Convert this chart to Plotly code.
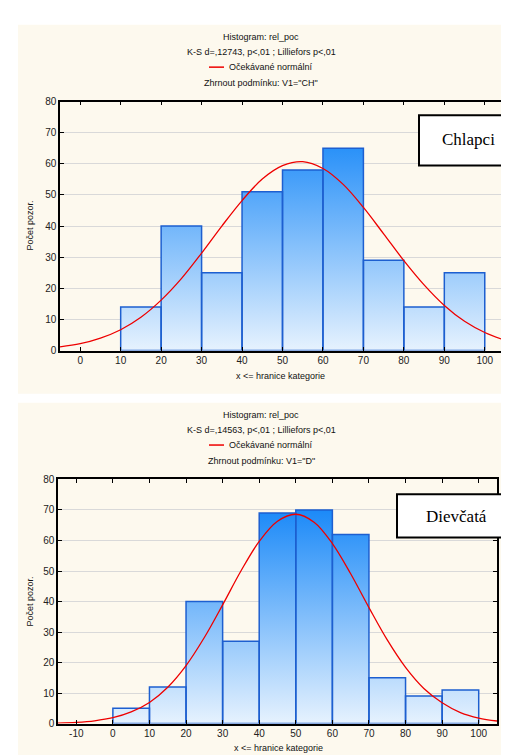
import plotly.graph_objects as go

# ---------------- data ----------------
edges_ch = [10, 20, 30, 40, 50, 60, 70, 80, 90, 100]
counts_ch = [14, 40, 25, 51, 58, 65, 29, 14, 25]

edges_d = [0, 10, 20, 30, 40, 50, 60, 70, 80, 90, 100]
counts_d = [5, 12, 40, 27, 69, 70, 62, 15, 9, 11]

# expected normal curve
curve_x_ch = [-5, 0, 5, 10, 15, 20, 25, 30, 35, 40, 45, 50, 55, 60, 65, 70, 75, 80, 85, 90, 95, 100, 105]
curve_y_ch = [1.2, 2.2, 4.0, 6.7, 10.7, 16.2, 23.1, 31.3, 40.0, 48.2, 55.1, 59.4, 60.7, 58.5, 53.4, 46.0,
              37.5, 28.9, 21.1, 14.5, 9.4, 5.8, 3.3]

curve_x_d = [-15, -10, -5, 0, 5, 10, 15, 20, 25, 30, 35, 40, 45, 50, 55, 60, 65, 70, 75, 80, 85, 90, 95, 100, 105]
curve_y_d = [0.16, 0.4, 0.9, 1.9, 3.8, 6.9, 11.9, 19.0, 28.2, 38.9, 50.0, 59.7, 66.3, 68.6, 66.0, 59.0,
             49.1, 38.0, 27.4, 18.4, 11.5, 6.8, 3.6, 1.8, 0.84]

xticks_ch = [0, 10, 20, 30, 40, 50, 60, 70, 80, 90, 100]
xticks_d = [-10, 0, 10, 20, 30, 40, 50, 60, 70, 80, 90, 100]
xticklabels_d = ["-10", "0", "10", "20", "30", "40", "50", "60", "70", "80", "90", "100"]
yticks = [0, 10, 20, 30, 40, 50, 60, 70, 80]

titles_ch = ["Histogram: rel_poc", "K-S d=,12743, p<,01 ; Lilliefors p<,01", "Zhrnout podmínku: V1=\"CH\""]
titles_d = ["Histogram: rel_poc", "K-S d=,14563, p<,01 ; Lilliefors p<,01", "Zhrnout podmínku: V1=\"D\""]
legend_text = "Očekávané normální"
ylabel = "Počet pozor."
xlabel = "x <= hranice kategorie"
label_ch = "Chlapci"
label_d = "Dievčatá"

# ---------------- layout helpers ----------------
W, H = 509, 755
def px(x):
    return x / W
def py(y):
    return 1 - y / H

SANS = "Liberation Sans, Arial, sans-serif"
SERIF = "Liberation Serif, Times New Roman, serif"
CREAM = "#fdf9ee"
EDGE = "#1d5fd0"
GRAD = [[0, "#eaf4fe"], [1, "#1c8af8"]]

def bar_polygons(edges, counts):
    xs, ys = [], []
    for lo, hi, c in zip(edges[:-1], edges[1:], counts):
        xs += [lo, lo, hi, hi, lo, None]
        ys += [0, c, c, 0, 0, None]
    return xs, ys

fig = go.Figure()

for edges, counts, cx, cy, ax in [
    (edges_ch, counts_ch, curve_x_ch, curve_y_ch, ""),
    (edges_d, counts_d, curve_x_d, curve_y_d, "2"),
]:
    bx, by = bar_polygons(edges, counts)
    fig.add_trace(go.Scatter(
        x=bx, y=by, mode="lines", fill="toself",
        fillgradient=dict(type="vertical", colorscale=GRAD, start=0, stop=70),
        line=dict(color=EDGE, width=1.5),
        xaxis="x" + ax, yaxis="y" + ax, showlegend=False, hoverinfo="skip",
    ))
    fig.add_trace(go.Scatter(
        x=cx, y=cy, mode="lines", line=dict(color="#ee0000", width=1.3, shape="spline"),
        xaxis="x" + ax, yaxis="y" + ax, showlegend=False,
    ))

axis_common = dict(
    showline=True, linecolor="black", linewidth=1.5, mirror="ticks",
    ticks="inside", ticklen=4, tickcolor="black", tickwidth=1,
    tickfont=dict(family=SANS, size=10, color="#222"), zeroline=False,
)

fig.update_layout(
    width=W, height=H, margin=dict(l=0, r=0, t=0, b=0),
    paper_bgcolor="white", plot_bgcolor="white",
    xaxis=dict(domain=[px(52), px(497)], range=[-5, 105], tickvals=xticks_ch,
               showgrid=False, anchor="y", **axis_common),
    yaxis=dict(domain=[py(342), py(89)], range=[0, 80], tickvals=yticks,
               showgrid=True, gridcolor="#d9d9d9", gridwidth=1, anchor="x", **axis_common),
    xaxis2=dict(domain=[px(50), px(489)], range=[-15, 105], tickvals=xticks_d, ticktext=xticklabels_d,
                showgrid=False, anchor="y2", **axis_common),
    yaxis2=dict(domain=[py(721), py(473)], range=[0, 80], tickvals=yticks,
                showgrid=True, gridcolor="#d9d9d9", gridwidth=1, anchor="x2", **axis_common),
)

shapes = [
    dict(type="rect", xref="paper", yref="paper", x0=px(10), x1=px(509), y0=py(386), y1=py(11),
         fillcolor=CREAM, line=dict(width=0), layer="below"),
    dict(type="rect", xref="paper", yref="paper", x0=px(10), x1=px(499), y0=py(755), y1=py(395),
         fillcolor=CREAM, line=dict(width=0), layer="below"),
    dict(type="rect", xref="paper", yref="paper", x0=px(411), x1=px(508), y0=py(154), y1=py(103),
         fillcolor="white", line=dict(color="black", width=2), layer="above"),
    dict(type="rect", xref="paper", yref="paper", x0=px(389), x1=px(508), y0=py(532), y1=py(488),
         fillcolor="white", line=dict(color="black", width=2), layer="above"),
    dict(type="line", xref="paper", yref="paper", x0=px(201), x1=px(216), y0=py(54), y1=py(54),
         line=dict(color="#ee0000", width=1.5)),
    dict(type="line", xref="paper", yref="paper", x0=px(201), x1=px(216), y0=py(438), y1=py(438),
         line=dict(color="#ee0000", width=1.5)),
]

annotations = []
def txt(x, y, s, size=9, family=SANS, xanchor="center", angle=0, color="#111"):
    annotations.append(dict(x=px(x), y=py(y), xref="paper", yref="paper", text=s, showarrow=False,
                            xanchor=xanchor, yanchor="middle", textangle=angle,
                            font=dict(family=family, size=size, color=color)))

for ys, titles, legy in [((23, 39, 70), titles_ch, 54), ((407, 423, 454), titles_d, 438)]:
    txt(253, ys[0], titles[0])
    txt(253, ys[1], titles[1])
    txt(253, ys[2], titles[2])
    txt(219, legy, legend_text, xanchor="left")

txt(22, 215, ylabel, angle=-90)
txt(22, 597, ylabel, angle=-90)
txt(272, 368, xlabel)
txt(270, 746, xlabel)
txt(460, 128, label_ch, size=17, family=SERIF, color="black")
txt(448, 511, label_d, size=17, family=SERIF, color="black")

fig.update_layout(shapes=shapes, annotations=annotations)
fig.write_html("out.html")
